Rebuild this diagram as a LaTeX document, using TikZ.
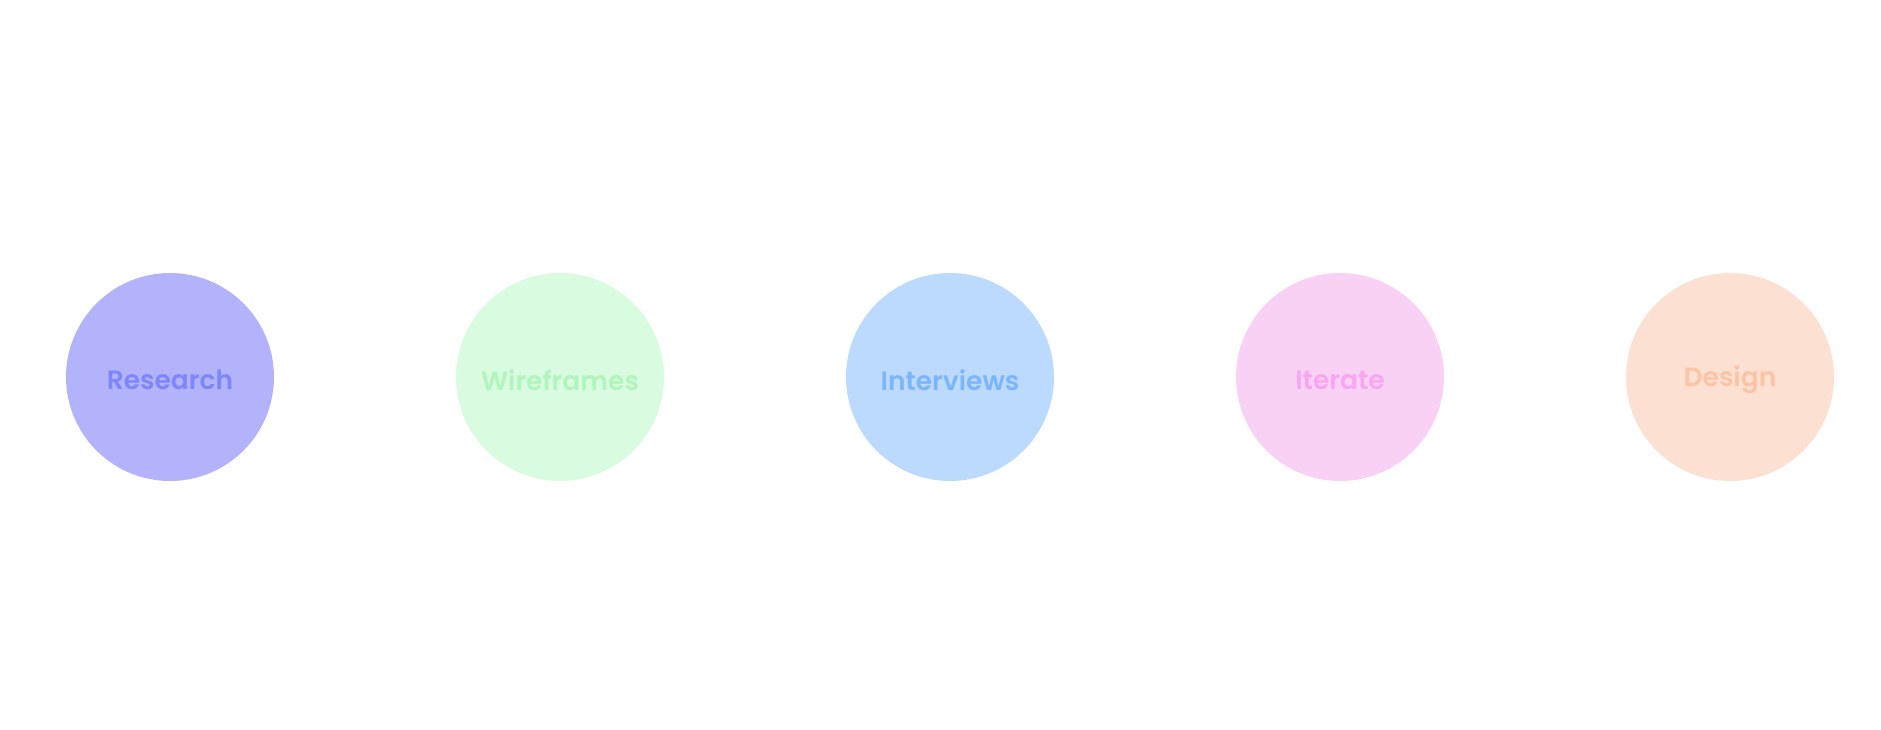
\documentclass[tikz,border=0pt]{standalone}
\usepackage{fontspec}
\setmainfont{Poppins}[BoldFont={Poppins SemiBold}]
\usepackage{xcolor}
\usetikzlibrary{positioning}

\definecolor{researchfill}{HTML}{B3B3FC}
\definecolor{researchtext}{HTML}{7F86FA}
\definecolor{wirefill}{HTML}{D9FBDF}
\definecolor{wiretext}{HTML}{B0F5BC}
\definecolor{interfill}{HTML}{BBDAFE}
\definecolor{intertext}{HTML}{7DB5FD}
\definecolor{iterfill}{HTML}{F9D1F5}
\definecolor{itertext}{HTML}{F8A6F0}
\definecolor{designfill}{HTML}{FCE1D3}
\definecolor{designtext}{HTML}{FCC4A5}
\newcommand{\stagelabel}[1]{\raisebox{-3pt}[\height][\depth]{#1}}

\begin{document}
\begin{tikzpicture}[x=1pt, y=-1pt, node distance=390pt, on grid,
  stage/.style={circle, minimum size=208pt, inner sep=0pt, font=\fontsize{26.5}{30}\selectfont\bfseries}]
\useasboundingbox (0,0) rectangle (1881,729);
% Etapas
\node[stage, fill=researchfill, text=researchtext] (research) at (170,377) {\stagelabel{Research}};
\node[stage, fill=wirefill, text=wiretext, right=of research] (wireframes) {\stagelabel{Wireframes}};
\node[stage, fill=interfill, text=intertext, right=of wireframes] (interviews) {\stagelabel{Interviews}};
\node[stage, fill=iterfill, text=itertext, right=of interviews] (iterate) {\stagelabel{Iterate}};
\node[stage, fill=designfill, text=designtext, right=of iterate] (design) {\stagelabel{Design}};
\end{tikzpicture}
\end{document}
